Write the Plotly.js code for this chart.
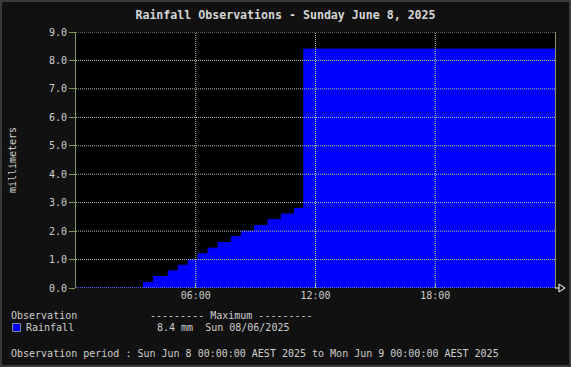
<!DOCTYPE html>
<html>
<head>
<meta charset="utf-8">
<script src="https://cdn.plot.ly/plotly-3.0.1.min.js"></script>
<style>
  html, body { margin: 0; padding: 0; background: #111111; }
  #chart { width: 571px; height: 367px; }
</style>
</head>
<body>
<div id="chart"></div>
<script>
// ---- data ----
const chartTitle = "Rainfall Observations - Sunday June 8, 2025";
const seriesName = "Rainfall";
const unitLabel = "millimeters";
const times = ["00:00","03:23","03:53","04:37","05:07","05:37","06:07","06:37","07:07",
               "07:47","08:17","08:57","09:37","10:17","10:57","11:25","24:00"];
const rainfall = [0.0,0.2,0.4,0.6,0.8,1.0,1.2,1.4,1.6,1.8,2.0,2.2,2.4,2.6,2.8,8.4,8.4];
const xTickVals = [6, 12, 18];
const xTickText = ["06:00", "12:00", "18:00"];
const yTickVals = [0,1,2,3,4,5,6,7,8,9];
const maxDate = "Sun 08/06/2025";
const legendHeader = "Observation";
const maxHeader = "--------- Maximum ---------";
const periodText = "Observation period : Sun Jun 8 00:00:00 AEST 2025 to Mon Jun 9 00:00:00 AEST 2025";

// ---- helpers ----
const hours = times.map(t => { const [h, m] = t.split(":").map(Number); return h + m / 60; });
const maxVal = Math.max(...rainfall);

const W = 571, H = 367, L = 76, R = 16, T = 32, B = 79;
const PW = W - L - R, PH = H - T - B;
const px = x => (x - L) / PW;
const py = y => (H - B - y) / PH;

const mono = "DejaVu Sans Mono, Liberation Mono, monospace";
const txt = "#cfcfcf";
const axisGreen = "#7f9a5c";
const gridCol = "#b6caa8";

const shapes = [];
yTickVals.forEach(v => shapes.push({
  type: "line", xref: "paper", yref: "y", x0: 0, x1: 1, y0: v, y1: v, layer: "above",
  line: { color: gridCol, width: 1, dash: "1px,1px" }
}));
xTickVals.forEach(v => shapes.push({
  type: "line", xref: "x", yref: "paper", x0: v, x1: v, y0: 0, y1: 1, layer: "above",
  line: { color: gridCol, width: 1, dash: "1px,1px" }
}));
// outer frame
shapes.push({ type: "rect", xref: "paper", yref: "paper", x0: px(0), x1: px(W), y0: py(H), y1: py(0),
  line: { color: "#3a3a3a", width: 4 }, fillcolor: "rgba(0,0,0,0)", layer: "above" });
// legend swatch
shapes.push({ type: "rect", xref: "paper", yref: "paper", x0: px(12.5), x1: px(20.5), y0: py(331.5), y1: py(323.5),
  line: { color: "#8a8a8a", width: 1 }, fillcolor: "#0000ff", layer: "above" });
// arrow at end of x axis
shapes.push({ type: "path", xref: "paper", yref: "paper", layer: "above",
  path: `M ${px(555)},${py(288)} L ${px(559)},${py(288)} M ${px(559)},${py(284)} L ${px(565)},${py(288)} L ${px(559)},${py(292)} Z`,
  line: { color: "#ffffff", width: 1 }, fillcolor: "rgba(0,0,0,0)" });

const ann = (x, y, text, extra) => Object.assign({
  xref: "paper", yref: "paper", x: px(x), y: py(y), text: text, showarrow: false,
  xanchor: "left", yanchor: "middle", borderpad: 0, borderwidth: 0,
  font: { family: mono, size: 10, color: txt }
}, extra || {});

const annotations = [
  ann(11, 315, legendHeader),
  ann(150, 315, maxHeader),
  ann(26, 327, seriesName),
  ann(157, 327, `${maxVal.toFixed(1)} mm\u00a0\u00a0${maxDate}`),
  ann(11, 353, periodText)
];

const trace = {
  type: "scatter", mode: "lines", x: hours, y: rainfall, name: seriesName,
  line: { shape: "hv", color: "#0000ff", width: 1 },
  fill: "tozeroy", fillcolor: "#0000ff", hoverinfo: "skip"
};

const layout = {
  width: W, height: H,
  margin: { l: L, r: R, t: T, b: B, pad: 0 },
  paper_bgcolor: "#111111", plot_bgcolor: "#000000",
  showlegend: false,
  title: { text: chartTitle, x: 0.5, xanchor: "center", y: 1 - 15 / H, yanchor: "middle",
           font: { family: mono, size: 11.6, color: "#d6d6d6", weight: "bold" } },
  xaxis: {
    range: [0, 24], tickvals: xTickVals, ticktext: xTickText,
    showgrid: false, zeroline: false, showline: false,
    ticks: "inside", ticklen: 4, tickcolor: axisGreen, tickwidth: 1,
    tickfont: { family: mono, size: 10, color: txt }, layer: "above traces", fixedrange: true
  },
  yaxis: {
    range: [0, 9], tickvals: yTickVals, tickformat: ".1f",
    showgrid: false, zeroline: false, showline: true, mirror: true, linecolor: axisGreen, linewidth: 1,
    ticks: "outside", ticklen: 6, tickcolor: axisGreen, tickwidth: 1,
    tickfont: { family: mono, size: 10, color: txt }, layer: "above traces", fixedrange: true,
    title: { text: unitLabel, standoff: 30, font: { family: mono, size: 10, color: txt } }
  },
  shapes: shapes,
  annotations: annotations
};

Plotly.newPlot("chart", [trace], layout, { displayModeBar: false, staticPlot: true });
</script>
</body>
</html>
